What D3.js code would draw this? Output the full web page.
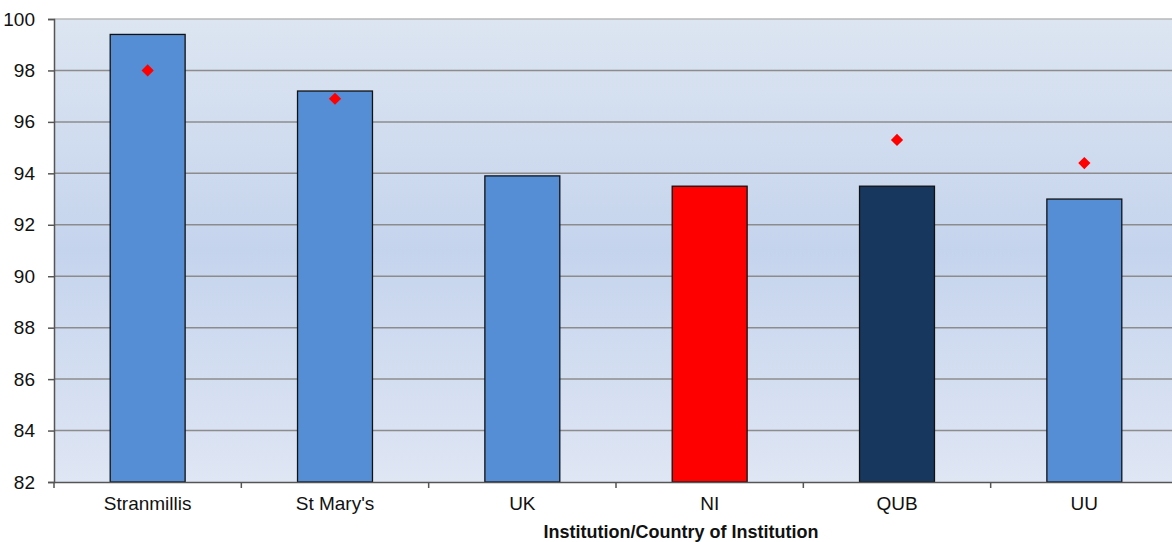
<!DOCTYPE html>
<html>
<head>
<meta charset="utf-8">
<script src="https://cdn.jsdelivr.net/npm/d3@7"></script>
<style>
  body { margin: 0; background: #fff; }
  svg { display: block; font-family: "Liberation Sans", Arial, sans-serif; }
</style>
</head>
<body>
<svg id="chart"></svg>
<script>
const categories = ['Stranmillis', "St Mary's", 'UK', 'NI', 'QUB', 'UU'];
const barValues = [99.4, 97.2, 93.9, 93.5, 93.5, 93.0];
const markerValues = [98.0, 96.9, null, null, 95.3, 94.4];
const barColors = ['#558ed5', '#558ed5', '#558ed5', '#ff0000', '#17375e', '#558ed5'];
const yTicks = [82, 84, 86, 88, 90, 92, 94, 96, 98, 100];

const width = 1172, height = 542;
const margin = { top: 19, right: -6, bottom: 60, left: 54 };

const svg = d3.select('#chart').attr('width', width).attr('height', height);

const x = d3.scaleBand()
    .domain(categories)
    .range([margin.left, width - margin.right])
    .paddingInner(0).paddingOuter(0);

const y = d3.scaleLinear()
    .domain([82, 100])
    .range([height - margin.bottom, margin.top]);

// plot background gradient
const defs = svg.append('defs');
const grad = defs.append('linearGradient').attr('id', 'bg')
    .attr('x1', 0).attr('y1', 0).attr('x2', 0).attr('y2', 1);
grad.append('stop').attr('offset', '0%').attr('stop-color', '#dce5f1');
grad.append('stop').attr('offset', '50%').attr('stop-color', '#c5d4ed');
grad.append('stop').attr('offset', '100%').attr('stop-color', '#dfe6f4');

svg.append('rect')
    .attr('x', margin.left).attr('y', margin.top)
    .attr('width', width - margin.right - margin.left)
    .attr('height', y(82) - y(100))
    .attr('fill', 'url(#bg)');

// gridlines
svg.append('g')
    .selectAll('line')
    .data(yTicks.filter(d => d > 82))
    .join('line')
    .attr('x1', margin.left).attr('x2', width)
    .attr('y1', d => y(d)).attr('y2', d => y(d))
    .attr('stroke', d => d === 100 ? '#b8b8b8' : '#8c8c8c')
    .attr('stroke-width', 1.5);

// bars
svg.append('g')
    .selectAll('rect')
    .data(categories)
    .join('rect')
    .attr('x', d => x(d) + x.bandwidth() * 0.3)
    .attr('width', x.bandwidth() * 0.4)
    .attr('y', (d, i) => y(barValues[i]))
    .attr('height', (d, i) => y(82) - y(barValues[i]))
    .attr('fill', (d, i) => barColors[i])
    .attr('stroke', '#111')
    .attr('stroke-width', 1.3);

// diamond markers
svg.append('g')
    .selectAll('path')
    .data(categories.map((c, i) => ({ c, v: markerValues[i] })).filter(d => d.v != null))
    .join('path')
    .attr('d', d3.symbol(d3.symbolDiamond2, 95))
    .attr('transform', d => `translate(${x(d.c) + x.bandwidth() / 2},${y(d.v)})`)
    .attr('fill', '#ff0000');

// y axis
const yAxis = svg.append('g')
    .attr('transform', `translate(${margin.left},0)`)
    .call(d3.axisLeft(y).tickValues(yTicks).tickSize(6).tickPadding(13).tickFormat(d3.format('d')));
yAxis.select('.domain').attr('stroke', '#555').attr('stroke-width', 1.5);
yAxis.selectAll('.tick line').attr('stroke', '#555').attr('stroke-width', 1.5);
yAxis.selectAll('.tick text').attr('font-size', 19).attr('fill', '#111')
    .attr('font-family', '"Liberation Sans", Arial, sans-serif');

// x axis
const xAxis = svg.append('g')
    .attr('transform', `translate(0,${y(82)})`)
    .call(d3.axisBottom(x).tickSize(0).tickPadding(15));
xAxis.select('.domain').attr('stroke', '#555').attr('stroke-width', 1.5);
xAxis.selectAll('.tick text').attr('font-size', 19).attr('fill', '#111')
    .attr('font-family', '"Liberation Sans", Arial, sans-serif');
xAxis.append('g')
    .selectAll('line')
    .data(categories)
    .join('line')
    .attr('x1', d => x(d)).attr('x2', d => x(d))
    .attr('y1', 0).attr('y2', 6)
    .attr('stroke', '#555').attr('stroke-width', 1.5);

// x title
svg.append('text')
    .attr('x', 681).attr('y', 538)
    .attr('text-anchor', 'middle')
    .attr('font-size', 18).attr('font-weight', 'bold').attr('fill', '#111')
    .text('Institution/Country of Institution');
</script>
</body>
</html>
